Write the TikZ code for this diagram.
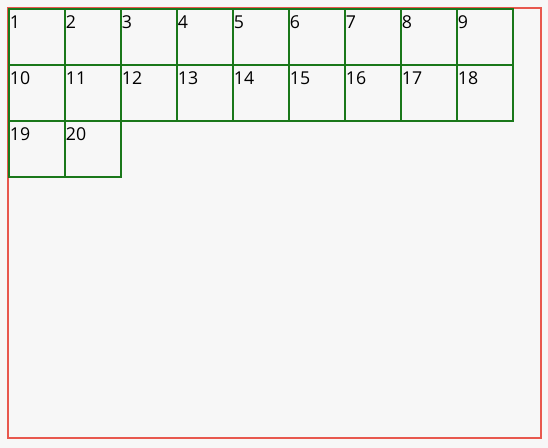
\documentclass[tikz,border=0pt]{standalone}
\usepackage{fontspec}
\setmainfont{Open Sans}
\definecolor{bg}{HTML}{F7F7F7}
\definecolor{cellgreen}{HTML}{1A781A}
\definecolor{frame}{HTML}{E8584E}
\begin{document}
\begin{tikzpicture}[x=0.75pt,y=-0.75pt,
  cell/.style={draw=cellgreen, line width=1.5pt, rectangle, minimum width=42pt, minimum height=42pt,
    anchor=north west, inner sep=0pt,
    label={[anchor=base west, inner sep=0pt, xshift=1.2pt, yshift=-15.3pt, font=\fontsize{13.3}{15}\selectfont]north west:#1}},
  outer/.style={draw=frame, line width=1.1pt}]
\fill[bg] (0,0) rectangle (548,448);
\useasboundingbox (0,0) rectangle (548,448);
\draw[outer] (8,8) rectangle (541,438);
\foreach \n in {1,...,20} {
  \pgfmathtruncatemacro{\r}{int((\n-1)/9)}
  \pgfmathtruncatemacro{\c}{mod(\n-1,9)}
  \node[cell=\n] (c\n) at ({8+56*\c},{8+56*\r}) {};
}
\end{tikzpicture}
\end{document}
